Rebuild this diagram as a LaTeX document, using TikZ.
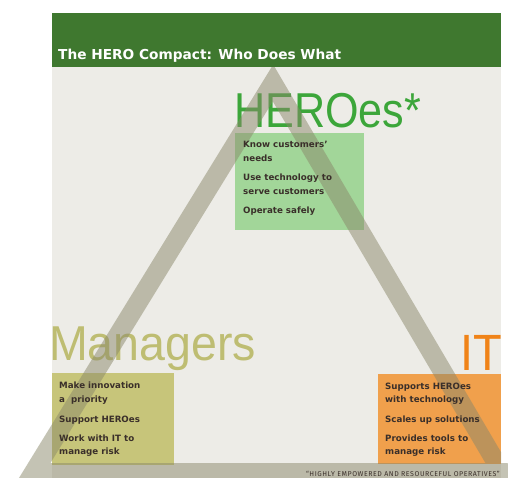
\documentclass[tikz,border=0pt]{standalone}
\usepackage{fontspec}
\setmainfont{Fira Sans}
\newfontfamily\bigfont{Liberation Sans}
\newfontfamily\boldsans{DejaVu Sans}
\usetikzlibrary{calc}

\definecolor{pagebg}{HTML}{EDECE7}
\definecolor{headgreen}{HTML}{3F782F}
\definecolor{heroword}{HTML}{3CA63A}
\definecolor{herobox}{HTML}{A2D699}
\definecolor{mgrword}{HTML}{BEBD72}
\definecolor{mgrbox}{HTML}{C7C57A}
\definecolor{itword}{HTML}{F08318}
\definecolor{itbox}{HTML}{F0A04C}
\definecolor{itemtext}{HTML}{3A2F2A}
\definecolor{trianglegray}{HTML}{8A886A}

\tikzset{
  bigword/.style={anchor=base west, inner sep=0pt, font=\bigfont\fontsize{49}{49}\selectfont},
  item/.style={anchor=base west, inner sep=0pt, text=itemtext, font=\boldsans\bfseries\fontsize{8.7}{11}\selectfont},
  triangleband/.style={draw=trianglegray, draw opacity=0.5, line width=19pt, line join=miter},
}

\begin{document}
\begin{tikzpicture}[x=1pt, y=-1pt]
  % page and panel
  \fill[white] (0,0) rectangle (508,478);
  \useasboundingbox (0,0) rectangle (508,478);
  \fill[pagebg] (52,13) rectangle (501,478);

  % coloured boxes of the three roles
  \fill[herobox] (235,133) rectangle (364,230);
  \fill[mgrbox]  (52,373) rectangle (174,465);
  \fill[itbox]   (378,374) rectangle (501,464);

  % role names
  \node[bigword, text=heroword] (heroes) at (234,128) {\scalebox{0.88}[1]{HEROes*}};
  \node[bigword, text=mgrword]  (managers) at (49,360) {\scalebox{0.95}[1]{Managers}};
  \node[bigword, anchor=base east, text=itword, font=\bigfont\fontsize{51}{51}\selectfont] (it) at (502,370) {\scalebox{0.92}[1]{IT}};

  % the compact triangle
  \coordinate (apex) at (273,83);
  \coordinate (bl) at (33.5,472.5);
  \coordinate (br) at (502,472.5);
  \begin{scope}
    \clip (0,0) rectangle (501,463) (0,463) rectangle (508,478);
    \draw[triangleband] (apex) -- (bl) -- (br) -- cycle;
  \end{scope}

  % header band
  \fill[headgreen] (52,13) rectangle (501,67);
  \node[anchor=base west, inner sep=0pt, text=white, font=\boldsans\bfseries\fontsize{13.7}{16}\selectfont] (title) at (58,60) {The HERO Compact: Who Does What};

  % duties of the HEROes
  \node[item] (h1) at (243,148)   {Know customers’};
  \node[item] (h2) at (243,161.5) {needs};
  \node[item] (h3) at (243,181)   {Use technology to};
  \node[item] (h4) at (243,194.5) {serve customers};
  \node[item] (h5) at (243,214)   {Operate safely};

  % duties of the managers
  \node[item] (m1) at (59,388) {Make innovation};
  \node[item] (m2) at (59,402) {a\ \ priority};
  \node[item] (m3) at (59,422) {Support HEROes};
  \node[item] (m4) at (59,441) {Work with IT to};
  \node[item] (m5) at (59,454) {manage risk};

  % duties of IT
  \node[item] (i1) at (385,389) {Supports HEROes};
  \node[item] (i2) at (385,402) {with technology};
  \node[item] (i3) at (385,422) {Scales up solutions};
  \node[item] (i4) at (385,441) {Provides tools to};
  \node[item] (i5) at (385,454) {manage risk};

  % footnote on the base of the triangle
  \node[anchor=base east, inner sep=0pt, text=itemtext, font=\fontsize{7}{8}\selectfont\addfontfeature{LetterSpace=8}] (note) at (500,476) {“HIGHLY EMPOWERED AND RESOURCEFUL OPERATIVES”};
\end{tikzpicture}
\end{document}
